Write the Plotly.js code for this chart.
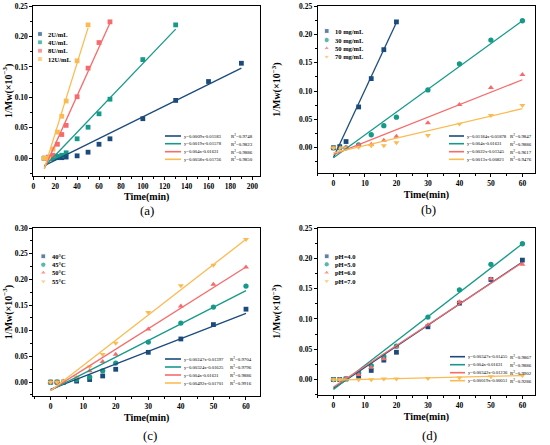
<!DOCTYPE html>
<html><head><meta charset="utf-8">
<script src="https://cdn.plot.ly/plotly-3.0.1.min.js"></script>
<style>html,body{margin:0;padding:0;background:#fff}</style>
</head><body>
<div id="chart" style="width:550px;height:445px"></div>
<script>
// ---------- DATA ----------
const COLORS = ['#1b4b7c', '#17998a', '#f76b6b', '#fbbb52'];

// Panel (a): enzyme dosage
const labelsA = ['2U/mL', '4U/mL', '8U/mL', '12U/mL'];
const timeA_2U = [10, 14, 18, 22, 26, 30, 40, 50, 60, 70, 100, 130, 160, 190];
const mwA_2U = [0, 0, 0, 0.001, 0.001, 0.002, 0.004, 0.010, 0.023, 0.032, 0.065, 0.095, 0.126, 0.156];
const timeA_4U = [10, 14, 18, 22, 26, 30, 40, 50, 60, 70, 100, 130];
const mwA_4U = [0, 0, 0, 0.003, 0.005, 0.009, 0.032, 0.051, 0.073, 0.097, 0.162, 0.219];
const timeA_8U = [10, 14, 18, 22, 26, 30, 40, 50, 60, 70];
const mwA_8U = [0, 0.002, 0.005, 0.023, 0.039, 0.054, 0.101, 0.148, 0.190, 0.224];
const timeA_12U = [10, 14, 18, 22, 26, 30, 40, 50];
const mwA_12U = [0, 0, 0.015, 0.043, 0.069, 0.094, 0.160, 0.219];
const fitTimeA = [[10, 190], [10, 130], [10, 70], [10, 50]];
const fitMwA = [[-0.012, 0.148], [-0.014, 0.212], [-0.017, 0.222], [-0.017, 0.214]];
const eqA = ['y=0.0009x-0.01183', 'y=0.0019x-0.01578', 'y=0.004x-0.01631', 'y=0.0058x-0.01736'];
const r2A = ['0.9748', '0.9823', '0.9886', '0.9850'];

// Panel (b): substrate concentration
const labelsB = ['10 mg/mL', '30 mg/mL', '50 mg/mL', '70 mg/mL'];
const timeB_10 = [0, 2, 4, 8, 12, 16, 20];
const mwB_10 = [0, 0.002, 0.011, 0.072, 0.122, 0.173, 0.222];
const timeB = [0, 2, 4, 8, 12, 16, 20, 30, 40, 50, 60];
const mwB_30 = [0, 0, 0, 0.005, 0.023, 0.039, 0.054, 0.102, 0.148, 0.190, 0.224];
const mwB_50 = [0, 0, 0.001, 0.004, 0.006, 0.013, 0.020, 0.044, 0.076, 0.106, 0.129];
const mwB_70 = [0, 0, 0, 0.001, 0.004, 0.004, 0.009, 0.022, 0.042, 0.057, 0.075];
const fitTimeB = [[0, 20], [0, 60], [0, 60], [0, 60]];
const fitMwB = [[-0.017, 0.221], [-0.0175, 0.224], [-0.012, 0.120], [-0.009, 0.069]];
const eqB = ['y=0.01184x-0.01878', 'y=0.004x-0.01631', 'y=0.0022x-0.01345', 'y=0.0013x-0.00821'];
const r2B = ['0.9847', '0.9886', '0.9617', '0.9476'];

// Panel (c): temperature
const labelsC = ['40°C', '45°C', '50°C', '55°C'];
const timeC = [0, 2, 4, 8, 12, 16, 20, 30, 40, 50, 60];
const mwC_40 = [0, 0, 0, 0.002, 0.005, 0.012, 0.025, 0.058, 0.084, 0.112, 0.142];
const mwC_45 = [0, 0, 0, 0.005, 0.010, 0.022, 0.037, 0.078, 0.115, 0.146, 0.187];
const mwC_50 = [0, 0, 0.002, 0.008, 0.022, 0.040, 0.054, 0.103, 0.148, 0.190, 0.224];
const mwC_55 = [0, 0, 0.002, 0.010, 0.030, 0.054, 0.076, 0.136, 0.188, 0.228, 0.278];
const fitTimeC = [[0, 60], [0, 60], [0, 60], [0, 60]];
const fitMwC = [[-0.014, 0.134], [-0.016, 0.178], [-0.016, 0.224], [-0.017, 0.278]];
const eqC = ['y=0.00247x-0.01397', 'y=0.00324x-0.01625', 'y=0.004x-0.01631', 'y=0.00492x-0.01701'];
const r2C = ['0.9704', '0.9796', '0.9886', '0.9916'];

// Panel (d): pH
const labelsD = ['pH=4.0', 'pH=5.0', 'pH=6.0', 'pH=7.0'];
const timeD = [0, 2, 4, 8, 12, 16, 20, 30, 40, 50, 60];
const mwD_4 = [0, 0, 0.001, 0.005, 0.015, 0.032, 0.045, 0.087, 0.126, 0.165, 0.197];
const mwD_5 = [0, 0, 0.001, 0.011, 0.023, 0.038, 0.055, 0.103, 0.148, 0.190, 0.224];
const mwD_6 = [0, 0, 0.002, 0.008, 0.020, 0.034, 0.054, 0.090, 0.128, 0.166, 0.190];
const mwD_7 = [0, 0, 0, 0, 0, 0.001, 0.001, 0.002, 0.003, 0.005, 0.007];
const fitTimeD = [[0, 60], [0, 60], [0, 60], [0, 60]];
const fitMwD = [[-0.0146, 0.194], [-0.0163, 0.224], [-0.0124, 0.193], [-0.001, 0.0066]];
const eqD = ['y=0.00347x-0.01455', 'y=0.004x-0.01631', 'y=0.00342x-0.01236', 'y=0.00019x-0.00051'];
const r2D = ['0.9867', '0.9886', '0.9902', '0.9286'];

const panelTags = ['(a)', '(b)', '(c)', '(d)'];

// ---------- LAYOUT / STYLE ----------
const W = 550, H = 445;
const SERIF = 'Liberation Serif, Times New Roman, serif';
const SYM4 = ['square', 'circle', 'triangle-up', 'triangle-down'];

const panels = [
  { labels: labelsA, xs: [timeA_2U, timeA_4U, timeA_8U, timeA_12U], ys: [mwA_2U, mwA_4U, mwA_8U, mwA_12U],
    fitX: fitTimeA, fitY: fitMwA, eq: eqA, r2: r2A, symbols: ['square', 'square', 'square', 'square'],
    box: [33.3, 260, 6, 175.7], xr: [0, 207], xd: 20, xm: 10, yr: [-0.0286, 0.25],
    mk: { x: 40, tx: 47, ys: [34, 42.3, 50.7, 59] },
    ln: { x0: 165, x1: 181, tx: 183, rx: 230, ys: [136, 143.7, 151.7, 159.3] },
    tag: [147, 210], ytStand: 0, xtStand: 3 },
  { labels: labelsB, xs: [timeB_10, timeB, timeB, timeB], ys: [mwB_10, mwB_30, mwB_50, mwB_70],
    fitX: fitTimeB, fitY: fitMwB, eq: eqB, r2: r2B, symbols: SYM4,
    box: [317.7, 535, 6, 173.3], xr: [-5, 64], xd: 10, xm: 5, yr: [-0.045, 0.25],
    mk: { x: 326.7, tx: 334, ys: [31, 40, 48.3, 56.7] },
    ln: { x0: 449, x1: 464, tx: 466, rx: 509, ys: [136, 143.7, 151.7, 159.3] },
    tag: [428, 209], ytStand: 16, xtStand: 3 },
  { labels: labelsC, xs: [timeC, timeC, timeC, timeC], ys: [mwC_40, mwC_45, mwC_50, mwC_55],
    fitX: fitTimeC, fitY: fitMwC, eq: eqC, r2: r2C, symbols: SYM4,
    box: [33.3, 260, 228, 396], xr: [-5.3, 64.3], xd: 10, xm: 5, yr: [-0.027, 0.30],
    mk: { x: 43.3, tx: 51, ys: [256.3, 264.7, 272.7, 281.3] },
    ln: { x0: 165, x1: 181, tx: 183, rx: 229, ys: [359, 367, 375, 383] },
    tag: [150, 435], ytStand: 0, xtStand: 3 },
  { labels: labelsD, xs: [timeD, timeD, timeD, timeD], ys: [mwD_4, mwD_5, mwD_6, mwD_7],
    fitX: fitTimeD, fitY: fitMwD, eq: eqD, r2: r2D, symbols: SYM4,
    box: [317.7, 535, 228, 395.3], xr: [-5, 64], xd: 10, xm: 5, yr: [-0.026, 0.25],
    mk: { x: 326.7, tx: 334, ys: [256.3, 264.3, 272.7, 281] },
    ln: { x0: 450, x1: 465, tx: 467, rx: 509, ys: [356.7, 364.7, 372.7, 380.7] },
    tag: [429, 435], ytStand: 16, xtStand: 3 }
];

const traces = [];
const annotations = [];
const layout = {
  width: W, height: H,
  margin: { l: 0, r: 0, t: 0, b: 0 },
  paper_bgcolor: '#fff', plot_bgcolor: 'rgba(0,0,0,0)',
  showlegend: false,
  font: { family: SERIF, color: '#000' },
  annotations: annotations
};

function axisBase() {
  return {
    showline: true, linecolor: '#000', linewidth: 1, mirror: true,
    ticks: 'outside', ticklen: 3, tickwidth: 1, tickcolor: '#000',
    showgrid: false, zeroline: false,
    tickfont: { family: SERIF, size: 7.5, weight: 'bold', color: '#000' }
  };
}

panels.forEach((p, i) => {
  const n = i + 1;
  const xid = n === 1 ? 'x' : 'x' + n;
  const yid = n === 1 ? 'y' : 'y' + n;
  const xkey = n === 1 ? 'xaxis' : 'xaxis' + n;
  const ykey = n === 1 ? 'yaxis' : 'yaxis' + n;
  const [L, R, T, B] = p.box;

  layout[xkey] = Object.assign(axisBase(), {
    domain: [L / W, R / W], anchor: yid, range: p.xr, tick0: 0, dtick: p.xd,
    minor: { ticks: 'outside', ticklen: 2, dtick: p.xm, tick0: 0, tickcolor: '#000' },
    title: { text: 'Time(min)', standoff: p.xtStand, font: { family: SERIF, size: 10, weight: 'bold', color: '#000' } }
  });
  layout[ykey] = Object.assign(axisBase(), {
    domain: [1 - B / H, 1 - T / H], anchor: xid, range: p.yr, tick0: 0, dtick: 0.05, tickformat: '.2f',
    minor: { ticks: 'outside', ticklen: 2, dtick: 0.025, tick0: 0, tickcolor: '#000' },
    title: { text: '1/Mw(×10<sup>−3</sup>)', standoff: p.ytStand, font: { family: SERIF, size: 10, weight: 'bold', color: '#000' } }
  });

  // data markers + fit lines
  for (let s = 0; s < 4; s++) {
    traces.push({
      type: 'scatter', mode: 'markers', xaxis: xid, yaxis: yid,
      x: p.xs[s], y: p.ys[s], name: p.labels[s], cliponaxis: false,
      marker: { symbol: p.symbols[s], size: p.symbols[s] === 'square' ? 4.8 : 5.3, color: COLORS[s], line: { width: 0 } }
    });
  }
  for (let s = 0; s < 4; s++) {
    traces.push({
      type: 'scatter', mode: 'lines', xaxis: xid, yaxis: yid,
      x: p.fitX[s], y: p.fitY[s], name: p.eq[s],
      line: { color: COLORS[s], width: 1.3 }
    });
  }

  // marker legend (drawn on pixel-coordinate axes)
  traces.push({
    type: 'scatter', mode: 'markers', xaxis: 'x5', yaxis: 'y5', cliponaxis: false,
    x: p.mk.ys.map(() => p.mk.x), y: p.mk.ys, hoverinfo: 'skip',
    marker: { symbol: p.symbols, size: p.symbols.map(sy => sy === 'square' ? 4.8 : 5.3), color: COLORS }
  });
  p.labels.forEach((lab, s) => {
    annotations.push({
      xref: 'x5', yref: 'y5', x: p.mk.tx, y: p.mk.ys[s], text: lab, showarrow: false,
      xanchor: 'left', yanchor: 'middle', borderpad: 0,
      font: { family: SERIF, size: 6.5, weight: 'bold', color: '#000' }
    });
  });

  // fit-line legend
  p.eq.forEach((eq, s) => {
    traces.push({
      type: 'scatter', mode: 'lines', xaxis: 'x5', yaxis: 'y5', cliponaxis: false, hoverinfo: 'skip',
      x: [p.ln.x0, p.ln.x1], y: [p.ln.ys[s], p.ln.ys[s]],
      line: { color: COLORS[s], width: 1.6 }
    });
    annotations.push({
      xref: 'x5', yref: 'y5', x: p.ln.tx, y: p.ln.ys[s], text: eq, showarrow: false,
      xanchor: 'left', yanchor: 'middle', borderpad: 0,
      font: { family: SERIF, size: 4.7, color: '#000' }
    });
    annotations.push({
      xref: 'x5', yref: 'y5', x: p.ln.rx, y: p.ln.ys[s], text: 'R<sup>2</sup>=' + p.r2[s], showarrow: false,
      xanchor: 'left', yanchor: 'middle', borderpad: 0,
      font: { family: SERIF, size: 4.9, color: '#000' }
    });
  });

  // panel tag
  annotations.push({
    xref: 'x5', yref: 'y5', x: p.tag[0], y: p.tag[1], text: panelTags[i], showarrow: false,
    xanchor: 'center', yanchor: 'middle',
    font: { family: SERIF, size: 13, color: '#000' }
  });
});

// full-page pixel-coordinate axes for legends and panel tags
layout.xaxis5 = { domain: [0, 1], range: [0, W], visible: false, fixedrange: true, anchor: 'y5' };
layout.yaxis5 = { domain: [0, 1], range: [H, 0], visible: false, fixedrange: true, anchor: 'x5' };

Plotly.newPlot('chart', traces, layout, { displayModeBar: false, staticPlot: true });
</script>
</body></html>
